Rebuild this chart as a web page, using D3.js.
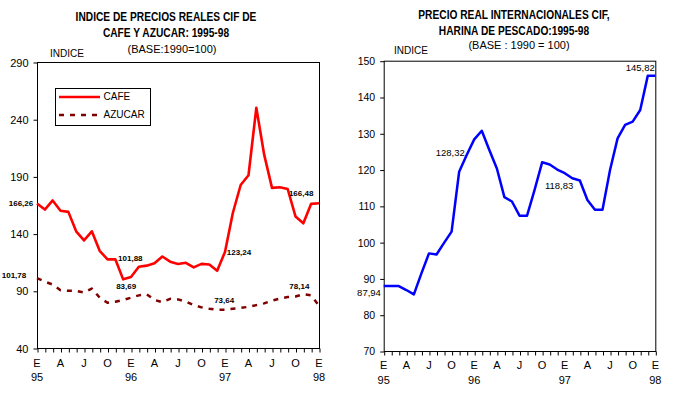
<!DOCTYPE html>
<html>
<head>
<meta charset="utf-8">
<script src="https://cdn.jsdelivr.net/npm/d3@7"></script>
<style>
  body { margin: 0; background: #fff; }
  svg { display: block; font-family: Arial, "Liberation Sans", sans-serif; }
  .title { font-family: "Liberation Sans Narrow", "Arial Narrow", Arial, sans-serif; font-weight: bold; font-size: 12px; }
</style>
</head>
<body>
<svg id="chart" width="678" height="397"></svg>
<script>
// monthly series, Jan 1995 .. Jan 1998 (37 points)
const monthLabels = ["E", "A", "J", "O", "E", "A", "J", "O", "E", "A", "J", "O", "E"];
const yearLabels = ["95", "96", "97", "98"];

const cafe = [166.26, 161, 169, 160, 159, 142, 134, 142, 125, 117.5, 117.5, 100,
  102, 111, 112, 114, 120, 115.5, 113.5, 114.5, 110.5, 113.5, 113, 107.5,
  124, 158, 182.5, 191, 250, 209, 180, 180.5, 179, 155, 149, 166, 166.48];

const azucar = [101, 98, 95.5, 90.5, 90, 90, 88.5, 92, 84, 79.5, 80.5, 82,
  84, 86, 87, 82, 80, 83, 82.5, 80.5, 77.5, 75.5, 74.3, 73.5,
  73.5, 74.3, 75, 76, 77.5, 79, 81.4, 83.2, 84.5, 85, 87, 86, 77];

const harina = [87.94, 87.9, 87.9, 86.8, 85.6, 91.4, 96.9, 96.6, 99.8, 102.9, 119.4, 124,
  128.32, 130.7, 125.4, 120.3, 112.4, 111.2, 107.3, 107.3, 114.4, 122, 121.4, 120,
  119, 117.6, 117, 111.6, 108.9, 108.9, 119.9, 128.6, 132.3, 133.2, 136.4, 145.82, 145.82];

const leftTicks = [40, 90, 140, 190, 240, 290];
const rightTicks = [70, 80, 90, 100, 110, 120, 130, 140, 150];

// annotated values: [series, month index, text]
const leftNotes = [
  ["cafe", 0, "166,26"], ["cafe", 10, "101,88"], ["cafe", 11, "83,69"],
  ["cafe", 24, "123,24"], ["cafe", 35, "166,48"],
  ["azucar", 0, "101,78"], ["azucar", 23, "73,64"], ["azucar", 34, "78,14"]
];
const rightNotes = [
  ["harina", 0, "87,94"], ["harina", 12, "128,32"], ["harina", 24, "118,83"], ["harina", 36, "145,82"]
];

const seriesData = { cafe, azucar, harina };

const svg = d3.select("#chart");
svg.append("rect").attr("width", 678).attr("height", 397).attr("fill", "#fff");

function drawPanel(cfg) {
  const g = svg.append("g");
  const x = d3.scaleLinear().domain([0, 36]).range([cfg.left, cfg.right]);
  const y = d3.scaleLinear().domain(cfg.domain).range([cfg.bottom, cfg.top]);

  // titles (condensed bold, squeezed to the original width)
  cfg.titles.forEach((t, k) => {
    const tt = g.append("text").attr("class", "title")
      .attr("x", cfg.titleX).attr("y", cfg.titleY[k])
      .attr("text-anchor", "middle").attr("dominant-baseline", "middle")
      .text(t);
    const w = tt.node().getComputedTextLength();
    tt.attr("textLength", w * cfg.squeeze).attr("lengthAdjust", "spacingAndGlyphs");
  });
  g.append("text").attr("x", cfg.subX).attr("y", cfg.subY)
    .attr("text-anchor", "middle").attr("dominant-baseline", "middle")
    .attr("font-size", 11).text(cfg.subtitle);
  g.append("text").attr("x", cfg.indiceX).attr("y", cfg.indiceY)
    .attr("dominant-baseline", "middle").attr("font-size", 10).text("INDICE");

  // frame
  g.append("rect")
    .attr("x", cfg.left + 0.5).attr("y", cfg.top + 0.5)
    .attr("width", cfg.right - cfg.left).attr("height", cfg.bottom - cfg.top)
    .attr("fill", "none").attr("stroke", "#000");

  // y axis
  const yAxis = d3.axisLeft(y).tickValues(cfg.ticks).tickSize(4).tickPadding(5).tickSizeOuter(0);
  const ya = g.append("g").attr("transform", `translate(${cfg.left + 0.5},0.5)`).call(yAxis);
  ya.select(".domain").remove();
  ya.selectAll("text").attr("font-size", cfg.tickFont).attr("font-family", "Arial, sans-serif").attr("fill", "#000");

  // x axis: monthly ticks
  const xAxis = d3.axisBottom(x).tickValues(d3.range(37)).tickSize(4).tickFormat("").tickSizeOuter(0);
  const xa = g.append("g").attr("transform", `translate(0.5,${cfg.bottom + 0.5})`).call(xAxis);
  xa.select(".domain").remove();

  monthLabels.forEach((m, k) => {
    g.append("text").attr("x", x(k * 3)).attr("y", cfg.monthY)
      .attr("text-anchor", "middle").attr("dominant-baseline", "middle")
      .attr("font-size", 11).text(m);
  });
  yearLabels.forEach((yr, k) => {
    g.append("text").attr("x", x(k * 12)).attr("y", cfg.yearY)
      .attr("text-anchor", "middle").attr("dominant-baseline", "middle")
      .attr("font-size", 11).text(yr);
  });

  // lines
  const line = d3.line().x((d, i) => x(i)).y(d => y(d));
  cfg.series.forEach(s => {
    g.append("path").datum(seriesData[s.key])
      .attr("d", line)
      .attr("fill", "none")
      .attr("stroke", s.color)
      .attr("stroke-width", s.width)
      .attr("stroke-dasharray", s.dash || null)
      .attr("stroke-linejoin", "round");
  });

  // value labels
  cfg.notes.forEach((n, k) => {
    const [key, i, txt] = n;
    const off = cfg.noteOffsets[k];
    g.append("text")
      .attr("x", x(i) + off[0]).attr("y", y(seriesData[key][i]) + off[1])
      .attr("text-anchor", "middle").attr("dominant-baseline", "middle")
      .attr("font-size", cfg.noteFont).attr("font-weight", cfg.noteWeight)
      .text(txt);
  });

  return { g, x, y };
}

const L = drawPanel({
  left: 37, right: 319, top: 62, bottom: 348,
  domain: [40, 290], ticks: leftTicks, tickFont: 11,
  titles: ["INDICE DE PRECIOS REALES CIF DE", "CAFE Y AZUCAR: 1995-98"],
  titleX: 166, titleY: [18, 34], squeeze: 0.85,
  subtitle: "(BASE:1990=100)", subX: 172, subY: 50,
  indiceX: 50, indiceY: 54,
  monthY: 364, yearY: 378.5,
  series: [
    { key: "azucar", color: "#800000", width: 2.5, dash: "5,6" },
    { key: "cafe", color: "#ff0000", width: 2.6 }
  ],
  notes: leftNotes,
  noteOffsets: [[-16, 0], [15, 0], [3, 8], [14, 1], [-10, -10], [-23, -2.5], [7, -9], [-4, -7]],
  noteFont: 8, noteWeight: "bold"
});

// legend
const lg = L.g.append("g");
lg.append("rect").attr("x", 55.5).attr("y", 88.5).attr("width", 95).attr("height", 37)
  .attr("fill", "#fff").attr("stroke", "#000");
lg.append("line").attr("x1", 59).attr("x2", 100).attr("y1", 97).attr("y2", 97)
  .attr("stroke", "#ff0000").attr("stroke-width", 2.6);
lg.append("line").attr("x1", 59).attr("x2", 100).attr("y1", 115).attr("y2", 115)
  .attr("stroke", "#800000").attr("stroke-width", 2.5).attr("stroke-dasharray", "5,6");
lg.append("text").attr("x", 103.5).attr("y", 97).attr("dominant-baseline", "middle")
  .attr("font-size", 10).text("CAFE");
lg.append("text").attr("x", 103.5).attr("y", 115).attr("dominant-baseline", "middle")
  .attr("font-size", 10).text("AZUCAR");

drawPanel({
  left: 383.7, right: 655.3, top: 60.7, bottom: 351,
  domain: [70, 150], ticks: rightTicks, tickFont: 10.5,
  titles: ["PRECIO REAL INTERNACIONALES CIF,", "HARINA DE PESCADO:1995-98"],
  titleX: 514, titleY: [15.5, 32], squeeze: 0.85,
  subtitle: "(BASE : 1990 = 100)", subX: 519, subY: 46.5,
  indiceX: 394, indiceY: 51.5,
  monthY: 366, yearY: 381.5,
  series: [{ key: "harina", color: "#0000ff", width: 2.5 }],
  notes: rightNotes,
  noteOffsets: [[-14.7, 7.4], [-24, 14.5], [-5.7, 13.5], [-15, -7.6]],
  noteFont: 9.5, noteWeight: "normal"
});
</script>
</body>
</html>
